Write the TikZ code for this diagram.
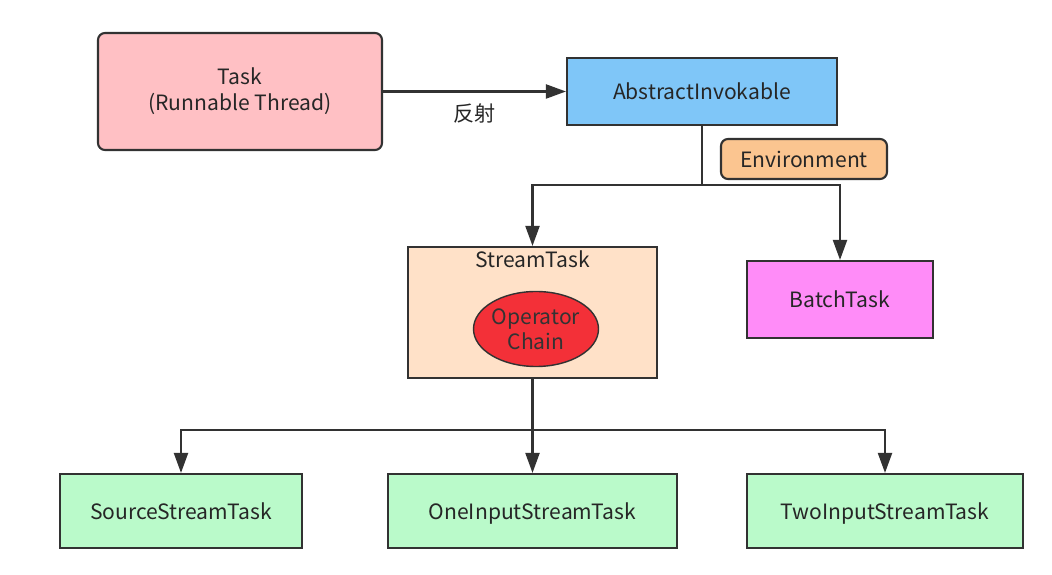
\documentclass[tikz,border=0pt]{standalone}
\usepackage{fontspec}
\setmainfont{Noto Sans CJK SC}
\usetikzlibrary{shapes.geometric, arrows.meta, positioning, calc}
\definecolor{taskpink}{RGB}{255, 192, 196}
\definecolor{invokeblue}{RGB}{127, 198, 248}
\definecolor{envorange}{RGB}{251, 197, 144}
\definecolor{streambisque}{RGB}{255, 225, 200}
\definecolor{chainred}{RGB}{243, 48, 56}
\definecolor{batchviolet}{RGB}{255, 140, 248}
\definecolor{subgreen}{RGB}{186, 250, 202}
\definecolor{linegray}{RGB}{50, 50, 50}
\tikzstyle{box} = [rectangle, draw=linegray, line width=1.2pt, text=black!85, align=center, font=\fontsize{12}{15}\selectfont]
\tikzstyle{roundbox} = [box, rounded corners=4pt]
\tikzstyle{leaf} = [box, fill=subgreen, minimum height=1.48cm, text height=1.9ex, text depth=0.2ex]
\tikzstyle{arrow} = [draw=linegray, line width=1.2pt, -{Triangle[length=0.4cm, width=0.28cm]}]
\tikzstyle{wire} = [draw=linegray, line width=1.2pt]

\begin{document}
\begin{tikzpicture}
\useasboundingbox (0,0) rectangle (21.04,-11.5);

% Top row
\node (task) [roundbox, fill=taskpink, minimum width=5.68cm, minimum height=2.34cm] at (4.8,-1.83) {Task\\(Runnable Thread)};
\node (abstract) [box, fill=invokeblue, minimum width=5.4cm, minimum height=1.34cm] at (14.04,-1.83) {AbstractInvokable};
\node (env) [roundbox, fill=envorange, minimum width=3.32cm, minimum height=0.8cm] at (16.08,-3.18) {Environment};

% Middle row
\node (stream) [box, fill=streambisque, minimum width=4.98cm, minimum height=2.62cm] at (10.65,-6.25) {};
\node (streamlabel) [font=\fontsize{12}{15}\selectfont, text=black!85, below=-1pt of stream.north] {StreamTask};
\node (chain) [ellipse, draw=linegray, line width=0.8pt, fill=chainred, text=black!80, align=center, inner sep=0pt, minimum width=2.5cm, minimum height=1.5cm, font=\fontsize{12}{14}\selectfont] at (10.72,-6.58) {Operator\\Chain};
\node (batch) [box, fill=batchviolet, minimum width=3.72cm, minimum height=1.54cm] at (16.8,-5.99) {BatchTask};

% Bottom row
\node (source) [leaf, minimum width=4.84cm] at (3.62,-10.22) {SourceStreamTask};
\node (oneinput) [leaf, minimum width=5.78cm] at (10.65,-10.22) {OneInputStreamTask};
\node (twoinput) [leaf, minimum width=5.52cm] at (17.7,-10.22) {TwoInputStreamTask};

% Connectors
\draw [arrow] (task.east |- abstract.west) -- node[below=3pt, font=\fontsize{12}{15}\selectfont, text=black!85] {反射} (abstract.west);

\coordinate (split1) at (abstract.south |- 0,-3.7);
\draw [wire] (abstract.south) -- (split1);
\draw [arrow] (split1) -| (stream.north);
\draw [arrow] (split1) -| (batch.north);

\coordinate (split2) at (stream.south |- 0,-8.6);
\draw [wire] (stream.south) -- (split2);
\draw [arrow] (split2) -| (source.north);
\draw [arrow] (split2) -- (oneinput.north);
\draw [arrow] (split2) -| (twoinput.north);

\end{tikzpicture}
\end{document}
